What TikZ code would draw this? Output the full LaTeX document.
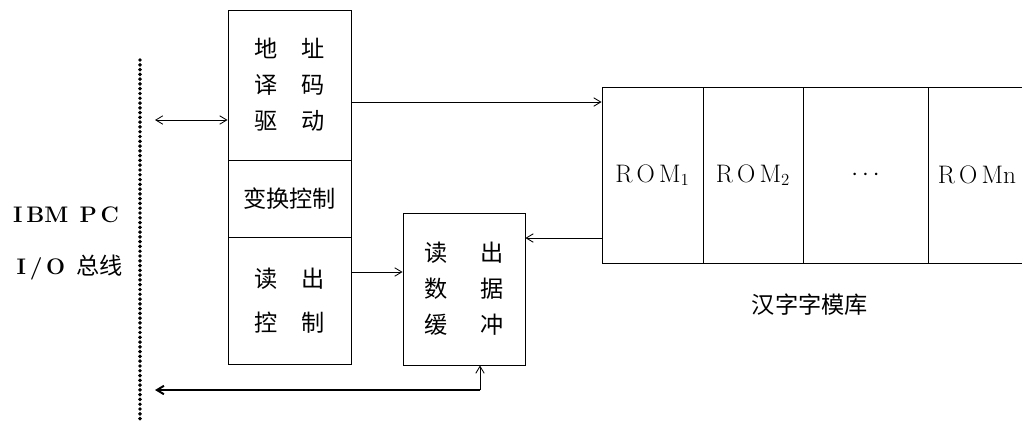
\documentclass[tikz,border=0pt]{standalone}
\usepackage{fontspec}
\newfontfamily\cjk{Noto Sans CJK SC}
\usetikzlibrary{positioning, arrows.meta}
\tikzset{
	block/.style={draw, align=center, inner sep=0pt, minimum width=3.075cm},
	cjktext/.style={font=\cjk\fontsize{16.5}{25.6}\selectfont},
	romtext/.style={font=\fontsize{18}{21}\selectfont},
	pctext/.style={font=\fontsize{16}{19}\selectfont},
}
\newcommand{\gap}{\hspace{1.0em}}
\begin{document}
\begin{tikzpicture}[x=0.025cm, y=-0.025cm, >={Straight Barb[length=5pt, width=6pt]}, line width=0.6pt]
	\useasboundingbox (0,0) rectangle (1022,423);
	\node[block, cjktext, minimum height=3.75cm] (addr) at (289.5,85) {地\gap 址\\译\gap 码\\驱\gap 动};
	\node[block, cjktext, minimum height=1.925cm] (conv) at (289.5,198.5) {变换控制};
	\node[block, cjktext, minimum height=3.175cm] (readctl) at (289.5,300.5) {读\gap 出\\[6pt]控\gap 制};
	\node[block, cjktext, minimum width=3.05cm, minimum height=3.8cm] (buf) at (464,289) {读\hspace{1.4em}出\\数\hspace{1.4em}据\\缓\hspace{1.4em}冲};
	%%%%%%%%%%%%%
	\node[draw, romtext, minimum width=2.525cm, minimum height=4.4cm] (rom1) at (652.5,175) {R\kern3pt O\kern3pt M$_1$};
	\node[draw, romtext, minimum width=2.5cm, minimum height=4.4cm] (rom2) at (753,175) {R\kern3pt O\kern3pt M$_2$};
	\node[draw, romtext, minimum width=3.125cm, minimum height=4.4cm] (romdots) at (865.5,175) {$\cdots$};
	\node[draw, romtext, minimum width=2.8cm, minimum height=4.4cm] (romn) at (984,175) {R\kern3pt O\kern3pt Mn\kern10pt};
	\node[cjktext] (lib) at (810,305) {汉字字模库};
	%%%%%%%%%%%%%
	\node[anchor=east, pctext] (pc) at (124,215) {\textbf{I\,BM\enspace P\,C}};
	\node[anchor=east, pctext] (io) at (128,268) {\textbf{I\,/\,O}\enspace{\cjk\fontsize{16.5}{20}\selectfont 总线}};
	\coordinate (bustop) at (140,60);
	\coordinate (busbot) at (140,423);
	\draw[line width=2.8pt, line cap=round, dash pattern=on 0pt off 3.4pt] (bustop) -- (busbot);
	%%%%%%%%%%%%%
	\coordinate (busA) at (155,120);
	\coordinate (busB) at (155,390);
	\coordinate (corner) at (480,390);
	\draw[<->] (busA) -- (busA -| addr.west);
	\draw[->] ([yshift=-0.425cm]addr.east) -- ([yshift=-0.425cm]addr.east -| rom1.west);
	\draw[->] ([yshift=0.7125cm]readctl.east) -- ([yshift=0.7125cm]readctl.east -| buf.west);
	\draw[->] ([yshift=-1.575cm]rom1.west) -- ([yshift=-1.575cm]rom1.west -| buf.east);
	\draw[->, line width=1.4pt] (corner) -- (busB);
	\draw[->] (corner) -- (corner |- buf.south);
\end{tikzpicture}
\end{document}
